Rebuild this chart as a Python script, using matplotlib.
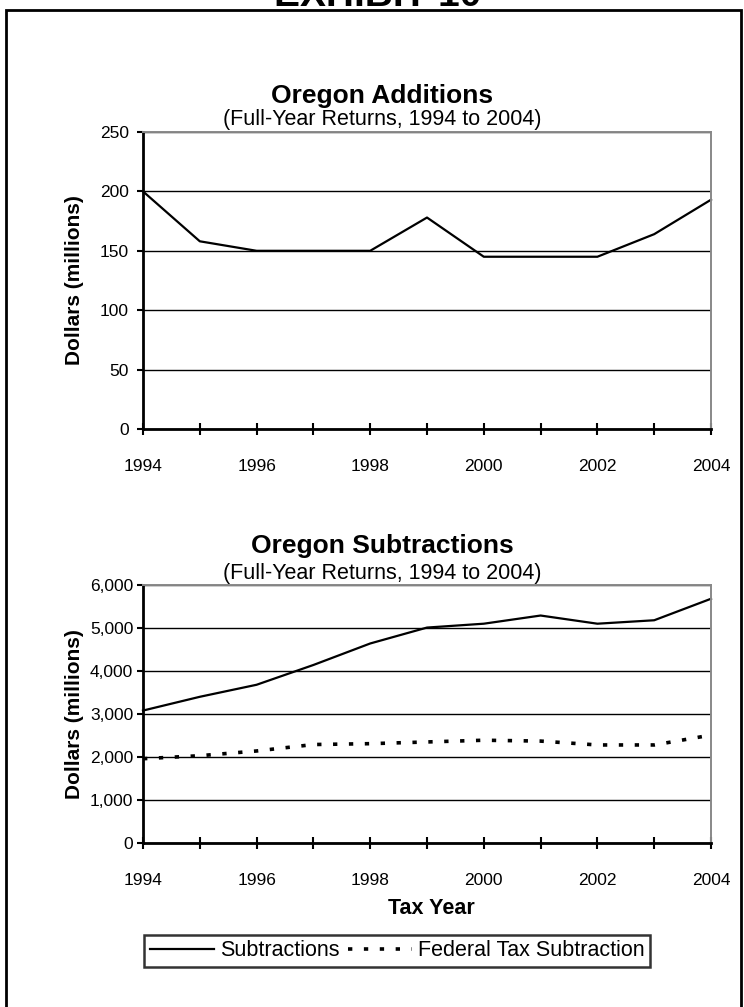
import matplotlib
matplotlib.use("Agg")
import matplotlib.pyplot as plt
from matplotlib.ticker import FuncFormatter, MultipleLocator
from matplotlib.patches import Rectangle

years = [1994, 1995, 1996, 1997, 1998, 1999, 2000, 2001, 2002, 2003, 2004]
additions = [200, 158, 150, 150, 150, 178, 145, 145, 145, 164, 193]
subtractions = [3080, 3400, 3680, 4140, 4640, 5010, 5100, 5290, 5100, 5180, 5680]
federal_tax = [1960, 2030, 2140, 2290, 2310, 2350, 2390, 2370, 2280, 2280, 2510]
xtick_labels = [1994, 1996, 1998, 2000, 2002, 2004]

W, H = 744, 1007
fig = plt.figure(figsize=(W / 100, H / 100), dpi=100)

sans = ['Liberation Sans', 'DejaVu Sans']
plt.rcParams['font.family'] = sans

# outer border
fig.patches.append(Rectangle((6 / W, -0.05), (741 - 6) / W, 1 - 10 / H + 0.05,
                             transform=fig.transFigure, fill=False, lw=2, ec='black'))
fig.text(378 / W, 1 - 6 / H, "EXHIBIT 10", ha='center', va='baseline',
         fontsize=28, fontweight='bold')

CX = 382 / W
AX_L, AX_R = 143, 711


def make_axes(rect, ymax, ystep, fmt, ypad):
    ax = fig.add_axes(rect)
    ax.set_xlim(1994, 2004)
    ax.set_ylim(0, ymax)
    ax.yaxis.set_major_locator(MultipleLocator(ystep))
    ax.yaxis.set_major_formatter(FuncFormatter(fmt))
    ax.set_xticks(years)
    ax.set_xticklabels([str(y) if y in xtick_labels else '' for y in years])
    ax.grid(axis='y', color='black', lw=1)
    ax.set_axisbelow(True)
    for s in ['top', 'right']:
        ax.spines[s].set_color('#888888')
        ax.spines[s].set_linewidth(1.4)
    for s in ['left', 'bottom']:
        ax.spines[s].set_color('black')
        ax.spines[s].set_linewidth(2)
    ax.tick_params(axis='x', direction='inout', length=9, width=1.5, pad=17, labelsize=12.5)
    ax.tick_params(axis='y', direction='out', length=4, width=1.5, pad=ypad, labelsize=12.5)
    ax.set_ylabel("Dollars (millions)", fontsize=15, fontweight='bold')
    ax.yaxis.set_label_coords((84 - AX_L) / (AX_R - AX_L), 0.5)
    return ax


ax1 = make_axes([AX_L / W, 1 - 429 / H, (AX_R - AX_L) / W, (429 - 132) / H], 250, 50,
                lambda v, p: f"{int(v)}", 6)
ax1.plot(years, additions, color='black', lw=1.6, clip_on=False)
fig.text(CX, 1 - 96 / H, "Oregon Additions", ha='center', va='center',
         fontsize=19, fontweight='bold')
fig.text(CX, 1 - 119 / H, "(Full-Year Returns, 1994 to 2004)", ha='center', va='center',
         fontsize=15.5)

ax2 = make_axes([AX_L / W, 1 - 843 / H, (AX_R - AX_L) / W, (843 - 585) / H], 6000, 1000,
                lambda v, p: f"{int(v):,}", 3)
l1, = ax2.plot(years, subtractions, color='black', lw=1.6, clip_on=False, label='Subtractions')
l2, = ax2.plot(years, federal_tax, color='black', lw=2.6, linestyle=(0, (1.2, 3.2)),
               clip_on=False, label='Federal Tax Subtraction')
fig.text(431 / W, 1 - 909 / H, "Tax Year", ha='center', va='center',
         fontsize=15.5, fontweight='bold')
fig.text(CX, 1 - 546 / H, "Oregon Subtractions", ha='center', va='center',
         fontsize=19, fontweight='bold')
fig.text(CX, 1 - 574 / H, "(Full-Year Returns, 1994 to 2004)", ha='center', va='center',
         fontsize=15.5)

leg = fig.legend(handles=[l1, l2], loc='center', bbox_to_anchor=(397 / W, 1 - 951 / H),
                 ncol=2, frameon=True, fancybox=False, handlelength=3.0, handletextpad=0.25,
                 columnspacing=0.4, borderpad=0.25, borderaxespad=0,
                 prop={'size': 15.5})
leg.get_frame().set_edgecolor('black')
leg.get_frame().set_linewidth(1.8)

fig.savefig("out.png", dpi=100)
